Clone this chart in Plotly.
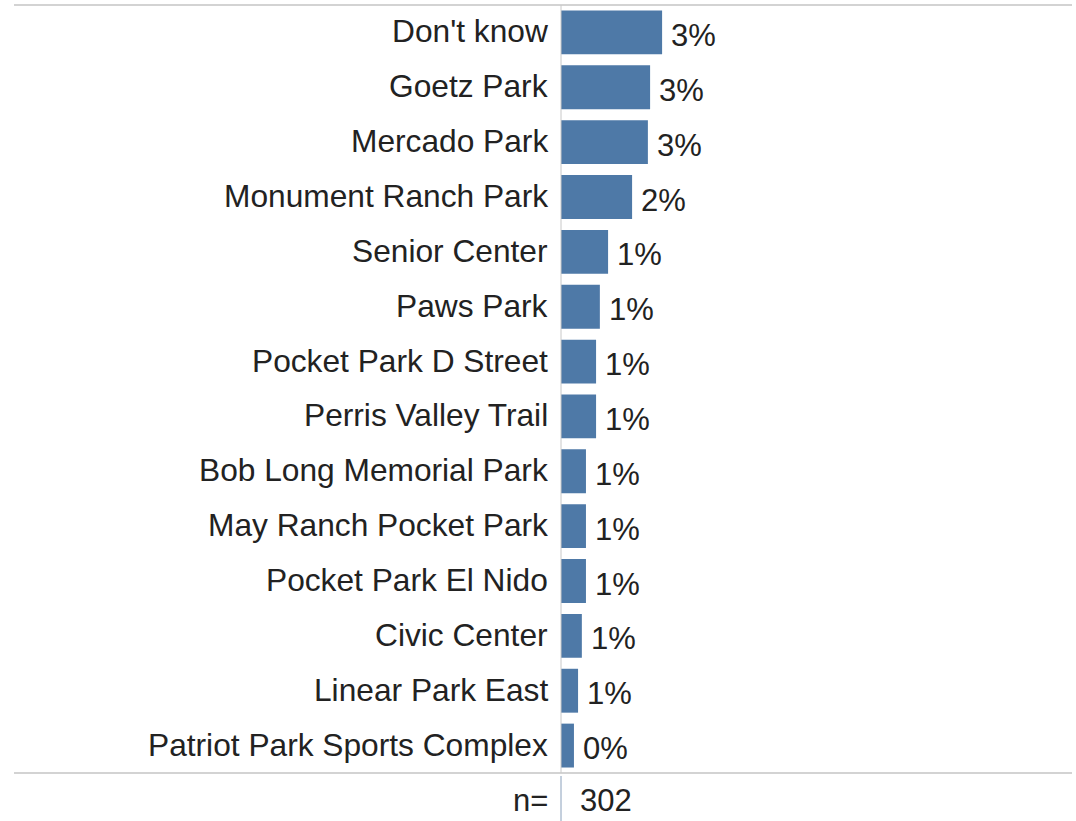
import plotly.graph_objects as go

categories = [
    "Don't know", "Goetz Park", "Mercado Park", "Monument Ranch Park",
    "Senior Center", "Paws Park", "Pocket Park D Street", "Perris Valley Trail",
    "Bob Long Memorial Park", "May Ranch Pocket Park", "Pocket Park El Nido",
    "Civic Center", "Linear Park East", "Patriot Park Sports Complex",
]
values = [3.2, 2.82, 2.75, 2.25, 1.49, 1.23, 1.11, 1.11, 0.79, 0.79, 0.79, 0.66, 0.54, 0.41]
value_labels = [f"{round(v)}%" for v in values]
n_label = "n="
n_value = "302"

W, H = 1076, 821
FONT = "Liberation Sans"
FS = 31
FS_CAT = 31.7
TXT = "#222222"
BAR = "#4E79A7"

x0 = 561 / W
y_top = (H - 5) / H
y_bot = (H - 773) / H

fig = go.Figure()
fig.add_trace(go.Bar(
    x=values, y=categories, orientation="h",
    marker=dict(color=BAR, line=dict(width=0)),
    hoverinfo="skip",
))

for c, v, t in zip(categories, values, value_labels):
    fig.add_annotation(x=v, y=c, xref="x", yref="y", text=t, showarrow=False,
                       xanchor="left", yanchor="middle", xshift=7, yshift=-3,
                       font=dict(family=FONT, size=FS, color=TXT))
    fig.add_annotation(x=550 / W, y=c, xref="paper", yref="y", text=c, showarrow=False,
                       xanchor="right", yanchor="middle", yshift=1,
                       font=dict(family=FONT, size=FS_CAT, color=TXT))

fig.add_annotation(x=550 / W, y=(H - 800) / H, xref="paper", yref="paper", text=n_label,
                   showarrow=False, xanchor="right", yanchor="middle",
                   font=dict(family=FONT, size=FS, color=TXT))
fig.add_annotation(x=578 / W, y=(H - 800) / H, xref="paper", yref="paper", text=n_value,
                   showarrow=False, xanchor="left", yanchor="middle",
                   font=dict(family=FONT, size=FS, color=TXT))

# frame lines
fig.add_shape(type="line", xref="paper", yref="paper", x0=14 / W, x1=1072 / W, y0=y_top, y1=y_top,
              line=dict(color="#d3d3d3", width=2))
fig.add_shape(type="line", xref="paper", yref="paper", x0=14 / W, x1=1072 / W, y0=y_bot, y1=y_bot,
              line=dict(color="#d3d3d3", width=2))
fig.add_shape(type="line", xref="paper", yref="paper", x0=x0, x1=x0, y0=y_bot, y1=y_top,
              line=dict(color="#c8c8c8", width=1))
fig.add_shape(type="line", xref="paper", yref="paper", x0=x0, x1=x0, y0=0, y1=(H - 776) / H,
              line=dict(color="#8aa0bb", width=1))

fig.update_layout(
    width=W, height=H,
    margin=dict(l=0, r=0, t=0, b=0),
    paper_bgcolor="white", plot_bgcolor="white",
    bargap=0.2,
    showlegend=False,
    xaxis=dict(domain=[x0, 1.0], range=[0, 16.3], visible=False, fixedrange=True),
    yaxis=dict(domain=[y_bot, y_top], autorange="reversed", type="category",
               showgrid=False, zeroline=False, showline=False, showticklabels=False,
               fixedrange=True),
    font=dict(family=FONT, color=TXT),
)

fig.write_html("out.html", config={"displayModeBar": False},
               post_script="document.body.style.margin='0px';document.body.style.overflow='hidden';")
